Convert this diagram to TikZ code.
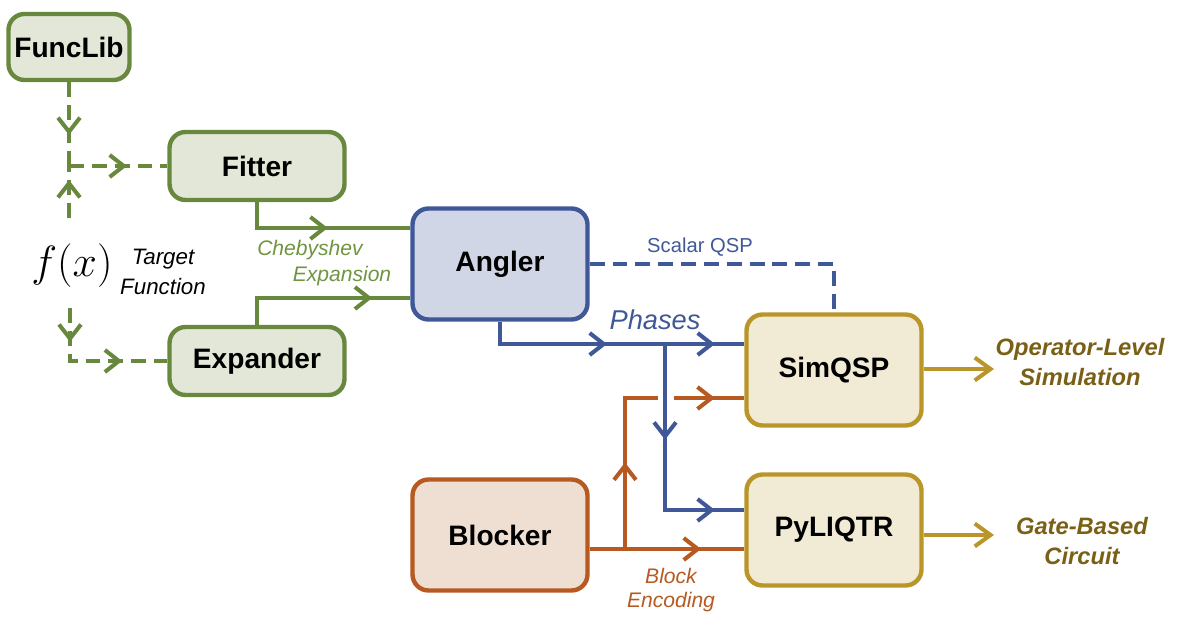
\documentclass[tikz,border=0pt]{standalone}
\usepackage{fontspec}
\setsansfont{Liberation Sans}
\usetikzlibrary{arrows.meta,decorations.markings}

\definecolor{libgreen}{RGB}{104,136,62}
\definecolor{libgreenfill}{RGB}{226,231,216}
\definecolor{chebgreen}{RGB}{112,148,64}
\definecolor{angblue}{RGB}{64,88,152}
\definecolor{angbluefill}{RGB}{208,214,229}
\definecolor{simgold}{RGB}{186,150,42}
\definecolor{simgoldfill}{RGB}{241,234,213}
\definecolor{outgold}{RGB}{122,96,22}
\definecolor{blkorange}{RGB}{182,90,34}
\definecolor{blkorangefill}{RGB}{239,223,211}

\tikzset{
  box/.style={draw, rounded corners=0.32cm, line width=2.5pt, minimum width=3.5cm,
    minimum height=1.36cm, font=\sffamily\bfseries\fontsize{16}{18}\selectfont},
  flow/.style={line width=2.3pt},
  arr/.style={postaction={decorate, decoration={markings,
    mark=at position #1 with {\arrow{Straight Barb[length=8pt, width=12.5pt]}}}}},
  dashflow/.style={flow, dash pattern=on 8.5pt off 4.5pt}
}

\begin{document}
\begin{tikzpicture}[x=0.02cm, y=-0.02cm]
\useasboundingbox (0,0) rectangle (1186,631);

\node[box, draw=libgreen, fill=libgreenfill, minimum width=2.28cm, minimum height=1.32cm] (funclib) at (69,47) {FuncLib};
\node[box, draw=libgreen, fill=libgreenfill] (fitter) at (257,166) {Fitter};
\node[box, draw=libgreen, fill=libgreenfill] (expander) at (257,361) {Expander};
\node[box, draw=angblue, fill=angbluefill, minimum height=2.22cm] (angler) at (500,264) {Angler};
\node[box, draw=simgold, fill=simgoldfill, minimum height=2.22cm] (simqsp) at (834,370) {SimQSP};
\node[box, draw=simgold, fill=simgoldfill, minimum height=2.22cm] (pyliqtr) at (834,530) {PyLIQTR};
\node[box, draw=blkorange, fill=blkorangefill, minimum height=2.22cm] (blocker) at (500,535) {Blocker};

\node (fx) at (72,266) {\fontsize{28}{32}\selectfont$f(x)$};
\node[align=center, font=\sffamily\itshape\fontsize{12.7}{17}\selectfont] (target) at (163,272) {Target\\Function};

\coordinate (fitjoin) at (69,166);
\coordinate (fxup) at (69,218);
\coordinate (fxdown) at (70,308);
\coordinate (chebin) at (410,228);
\coordinate (expin) at (410,298);
\coordinate (phasejoin) at (665,344);
\coordinate (phaseturn) at (665,510);
\coordinate (blockjoin) at (625,549);
\coordinate (gapleft) at (658,398);
\coordinate (gapright) at (674,398);
\coordinate (simout) at (994,369);
\coordinate (gateout) at (994,535);

% target function inputs
\draw[dashflow, libgreen, arr=0.63] (funclib) -- (fitjoin);
\draw[dashflow, libgreen, arr=0.73] (fxup) -- (fitjoin);
\draw[dashflow, libgreen, arr=0.59] (fitjoin) -- (fitter);
\draw[dashflow, libgreen, arr=0.225, arr=0.70] (fxdown) |- (expander);

% chebyshev expansion
\draw[flow, libgreen, arr=0.54] (fitter) |- (chebin);
\draw[flow, libgreen, arr=0.79] (expander) |- (expin);
\node[text=chebgreen, font=\sffamily\itshape\fontsize{12}{14}\selectfont] (cheb) at (310,250) {Chebyshev};
\node[text=chebgreen, font=\sffamily\itshape\fontsize{12}{14}\selectfont] (expan) at (342,276) {Expansion};

% block encoding
\draw[flow, blkorange, arr=0.72] (blocker.east |- blockjoin) -- (pyliqtr.west |- blockjoin);
\draw[flow, blkorange, arr=0.47] (blockjoin) |- (gapleft);
\draw[flow, blkorange, arr=0.58] (gapright) -- (simqsp.west |- gapright);
\node[align=center, text=blkorange, font=\sffamily\itshape\fontsize{12}{14}\selectfont] (blockenc) at (671,590) {Block\\Encoding};

% phases
\draw[flow, angblue, arr=0.485, arr=0.89] (angler) |- (simqsp.west |- phasejoin);
\draw[flow, angblue, arr=0.39, arr=0.88] (phasejoin) -- (phaseturn) -- (pyliqtr.west |- phaseturn);
\draw[dashflow, angblue] (angler) -| (simqsp);
\node[text=angblue, font=\sffamily\itshape\fontsize{15.5}{17}\selectfont] (phases) at (655,320) {Phases};
\node[text=angblue, font=\sffamily\fontsize{11.5}{14}\selectfont] (scalar) at (700,247) {Scalar QSP};

% outputs
\draw[flow, simgold, -{Straight Barb[length=9pt, width=13pt]}] (simqsp.east |- simout) -- (simout);
\draw[flow, simgold, -{Straight Barb[length=9pt, width=13pt]}] (pyliqtr.east |- gateout) -- (gateout);
\node[align=center, text=outgold, font=\sffamily\bfseries\itshape\fontsize{13.5}{17.5}\selectfont] (oplevel) at (1080,362) {Operator-Level\\Simulation};
\node[align=center, text=outgold, font=\sffamily\bfseries\itshape\fontsize{13.5}{17.5}\selectfont] (gatebased) at (1082,541) {Gate-Based\\Circuit};

\end{tikzpicture}
\end{document}
